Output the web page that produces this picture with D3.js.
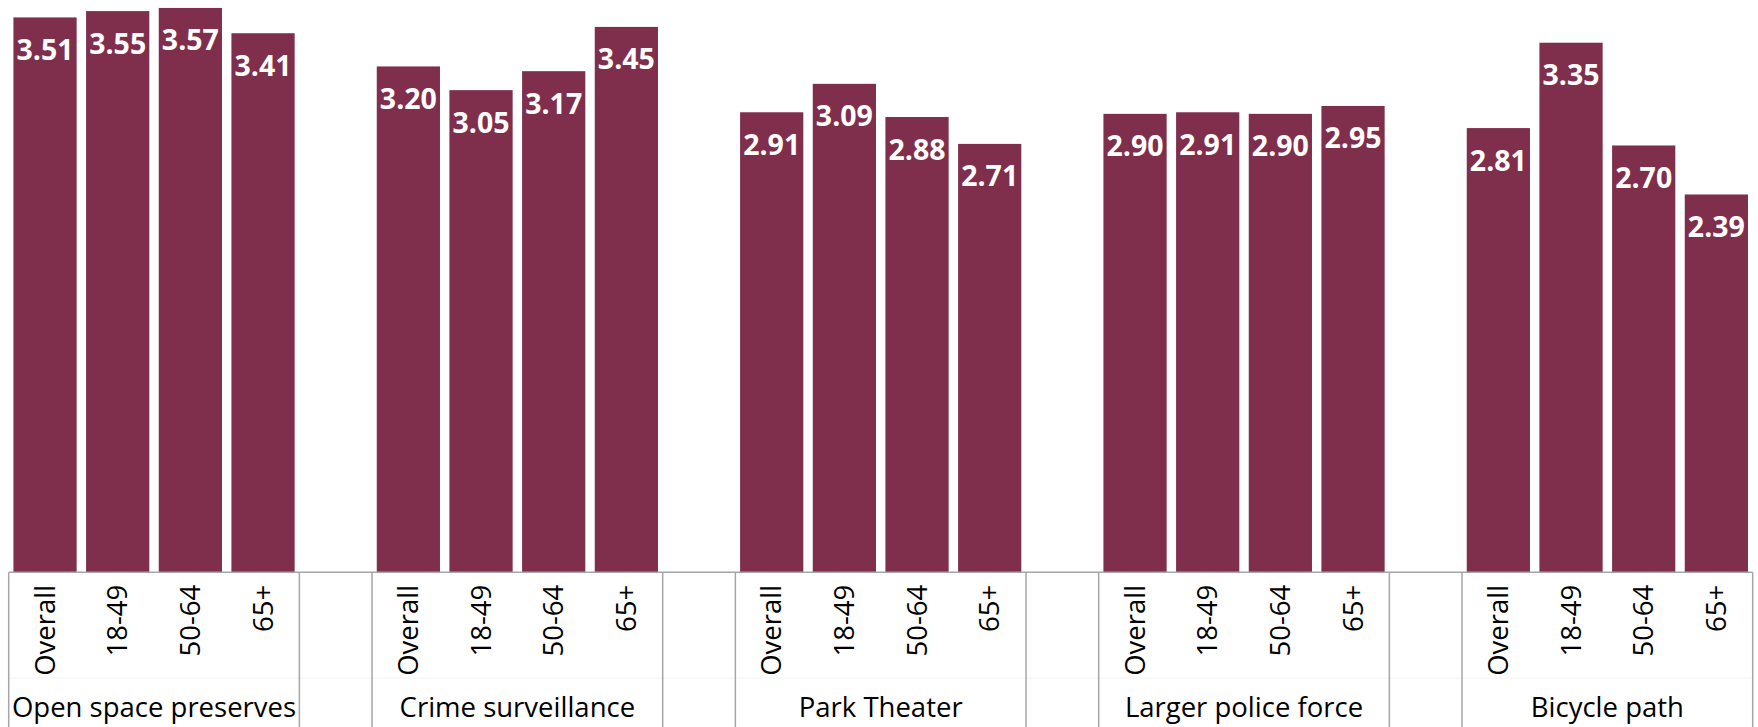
<!DOCTYPE html>
<html>
<head>
<meta charset="utf-8">
<script src="https://cdn.jsdelivr.net/npm/d3@7"></script>
<style>
  html, body { margin: 0; padding: 0; background: #fff; }
  svg { display: block; }
  text { font-family: "Open Sans", "Noto Sans", sans-serif; }
</style>
</head>
<body>
<svg id="chart" width="1758" height="727"></svg>
<script>
const groups = ["Open space preserves", "Crime surveillance", "Park Theater", "Larger police force", "Bicycle path"];
const ageGroups = ["Overall", "18-49", "50-64", "65+"];
const openSpace = [3.51, 3.55, 3.57, 3.41];
const crime = [3.20, 3.05, 3.17, 3.45];
const parkTheater = [2.91, 3.09, 2.88, 2.71];
const police = [2.90, 2.91, 2.90, 2.95];
const bicycle = [2.81, 3.35, 2.70, 2.39];
const seriesValues = [openSpace, crime, parkTheater, police, bicycle];

const W = 1758, H = 727;
const left = 8.7, right = 1752.7, baseY = 572.3, topY = 3.2;
const barColor = "#7F2E4B";
const lineColor = "#A6A6A6";

// slots: 4 per group plus a blank slot between groups
const slots = [];
const data = [];
groups.forEach((g, gi) => {
  ageGroups.forEach((a, ai) => {
    const id = gi + "|" + ai;
    slots.push(id);
    data.push({ id, group: g, age: a, value: seriesValues[gi][ai] });
  });
  if (gi < groups.length - 1) slots.push("blank" + gi);
});

const svg = d3.select("#chart");

const x = d3.scaleBand().domain(slots).range([left, right])
  .paddingInner(0.13).paddingOuter(0.065);
const step = x.step();
const slotStart = id => x(id) - x.paddingOuter() * step;

const y = d3.scaleLinear().domain([0, 3.6]).range([baseY, topY]);

// bars
svg.append("g").selectAll("rect").data(data).join("rect")
  .attr("x", d => x(d.id))
  .attr("y", d => y(d.value))
  .attr("width", x.bandwidth())
  .attr("height", d => y(0) - y(d.value))
  .attr("fill", barColor);

// value labels
svg.append("g").selectAll("text").data(data).join("text")
  .attr("x", d => x(d.id) + x.bandwidth() / 2)
  .attr("y", d => y(d.value) + 42.5)
  .attr("text-anchor", "middle")
  .attr("fill", "#fff")
  .attr("font-weight", "bold")
  .attr("font-size", 28.5)
  .text(d => d.value.toFixed(2));

// first level axis (age groups)
const labelMap = new Map(data.map(d => [d.id, d.age]));
const axis = d3.axisBottom(x).tickSize(0).tickFormat(id => labelMap.get(id) || "");
const ag = svg.append("g").attr("transform", `translate(0,${baseY})`).call(axis);
ag.select(".domain").remove();
ag.selectAll(".tick text")
  .attr("font-family", "'Open Sans', sans-serif")
  .attr("font-size", 27.5)
  .attr("fill", "#000")
  .attr("transform", "rotate(-90)")
  .attr("x", -12.5)
  .attr("y", 0)
  .attr("dy", "0.35em")
  .attr("text-anchor", "end");

// faint level separator
svg.append("line")
  .attr("x1", left).attr("x2", right)
  .attr("y1", 678).attr("y2", 678)
  .attr("stroke", "#F2F2F2").attr("stroke-width", 1);

// top axis line
svg.append("line")
  .attr("x1", left).attr("x2", right)
  .attr("y1", baseY).attr("y2", baseY)
  .attr("stroke", lineColor).attr("stroke-width", 1.5);

// vertical separators at group boundaries
const bounds = [];
groups.forEach((g, gi) => {
  const s = slotStart(gi + "|0");
  const e = slotStart(gi + "|3") + step;
  bounds.push({ g, s, e });
});
const vx = [];
bounds.forEach(b => { vx.push(b.s, b.e); });
svg.append("g").selectAll("line").data(vx).join("line")
  .attr("x1", d => d).attr("x2", d => d)
  .attr("y1", baseY).attr("y2", H)
  .attr("stroke", lineColor).attr("stroke-width", 1.5);

// group labels
svg.append("g").selectAll("text").data(bounds).join("text")
  .attr("x", d => (d.s + d.e) / 2)
  .attr("y", 716.5)
  .attr("text-anchor", "middle")
  .attr("font-size", 27.5)
  .attr("fill", "#000")
  .text(d => d.g);
</script>
</body>
</html>
